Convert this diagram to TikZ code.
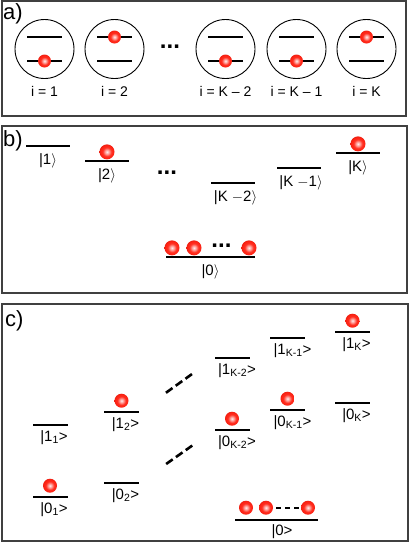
\documentclass[tikz,border=0pt]{standalone}
\usepackage{fontspec}
\setmainfont{Liberation Sans}
\usetikzlibrary{positioning}

\definecolor{ballred}{RGB}{255,35,20}
\pgfdeclareradialshading{redball}{\pgfpoint{0bp}{0bp}}{color(0bp)=(ballred!8); color(7bp)=(ballred!45); color(15bp)=(ballred!95); color(22bp)=(ballred); color(25bp)=(ballred!93!black); color(50bp)=(ballred!93!black)}

\begin{document}
\begin{tikzpicture}[x=1pt, y=-1pt]
	\tikzstyle{frame} = [draw=black!75, line width=1.3pt]
	\tikzstyle{tag} = [font=\fontsize{22}{22}\selectfont, inner sep=0pt, anchor=west]
	\tikzstyle{atom} = [circle, draw, line width=0.9pt, minimum size=59pt, inner sep=0pt]
	\tikzstyle{lev} = [rectangle, fill=black, inner sep=0pt, minimum width=35pt, minimum height=1.8pt]
	\tikzstyle{leva} = [lev, minimum width=35pt, minimum height=2.8pt]
	\tikzstyle{levb} = [lev, minimum width=44pt, minimum height=2.5pt]
	\tikzstyle{ball} = [circle, inner sep=0pt, minimum size=14pt, shading=redball]
	\tikzstyle{ket} = [font=\fontsize{15}{15}\selectfont, inner sep=0pt]
	\tikzstyle{site} = [font=\fontsize{14}{14}\selectfont, inner sep=0pt]
	\tikzstyle{dots} = [font=\bfseries\fontsize{24}{24}\selectfont, inner sep=0pt]
	\tikzstyle{dashline} = [line width=2.6pt, dash pattern=on 8pt off 4pt, shorten <=33pt, shorten >=27pt]

	\useasboundingbox (0,0) rectangle (409,542);

	% a) single sites
	\draw[frame] (2,1) rectangle (406,116);
	\node[tag] (ta) at (3,14) {a)};

	\node[atom] (a1) at (44.5,49) {};
	\node[leva] (a1u) at ([yshift=12pt]a1.center) {};
	\node[leva] (a1l) at ([yshift=-12pt]a1.center) {};
	\node[ball, minimum size=13pt] (a1b) at (a1l) {};
	\node[site, below=7pt of a1] (a1t) {i = 1};

	\node[atom] (a2) at (114.5,49) {};
	\node[leva] (a2u) at ([yshift=12pt]a2.center) {};
	\node[leva] (a2l) at ([yshift=-12pt]a2.center) {};
	\node[ball, minimum size=13pt] (a2b) at (a2u) {};
	\node[site, below=7pt of a2] (a2t) {i = 2};

	\node[dots] (ad) at (170,47) {...};

	\node[atom] (a3) at (225.5,49) {};
	\node[leva] (a3u) at ([yshift=12pt]a3.center) {};
	\node[leva] (a3l) at ([yshift=-12pt]a3.center) {};
	\node[ball, minimum size=13pt] (a3b) at (a3l) {};
	\node[site, below=7pt of a3] (a3t) {i = K – 2};

	\node[atom] (a4) at (296.5,49) {};
	\node[leva] (a4u) at ([yshift=12pt]a4.center) {};
	\node[leva] (a4l) at ([yshift=-12pt]a4.center) {};
	\node[ball, minimum size=13pt] (a4b) at (a4l) {};
	\node[site, below=7pt of a4] (a4t) {i = K – 1};

	\node[atom] (a5) at (366.5,49) {};
	\node[leva] (a5u) at ([yshift=12pt]a5.center) {};
	\node[leva] (a5l) at ([yshift=-12pt]a5.center) {};
	\node[ball, minimum size=13pt] (a5b) at (a5u) {};
	\node[site, below=7pt of a5] (a5t) {i = K};

	% b) one excitation
	\draw[frame] (2,126) rectangle (407,293);
	\node[tag] (tb) at (3,141) {b)};

	\node[levb] (b1) at (48,146) {};
	\node[ket, below=6pt of b1] (b1t) {|1$\rangle$};
	\node[levb] (b2) at (107,161) {};
	\node[ball, minimum size=15pt, above=0pt of b2] (b2b) {};
	\node[ket, below=6pt of b2] (b2t) {|2$\rangle$};
	\node[dots] (bd) at (167,173) {...};
	\node[levb] (bK2) at (232.5,183) {};
	\node[ket, below=6pt of bK2, xshift=3pt] (bK2t) {|K $-$2$\rangle$};
	\node[levb] (bK1) at (299,168) {};
	\node[ket, below=6pt of bK1, xshift=2pt] (bK1t) {|K $-$1$\rangle$};
	\node[levb] (bK) at (358,153) {};
	\node[ball, minimum size=15pt, above=0pt of bK] (bKb) {};
	\node[ket, below=6pt of bK] (bKt) {|K$\rangle$};

	\node[levb, minimum width=89pt] (b0) at (210.5,257) {};
	\node[ball, minimum size=15pt, anchor=south] (q1) at ([xshift=-38.5pt]b0.north) {};
	\node[ball, minimum size=15pt, anchor=south] (q2) at ([xshift=-16.5pt]b0.north) {};
	\node[ball, minimum size=15pt, anchor=south] (q3) at ([xshift=38.5pt]b0.north) {};
	\path (q2) -- (q3) node[midway, dots, yshift=2pt] (qd) {...};
	\node[ket, below=6pt of b0] (b0t) {|0$\rangle$};

	% c) two-level sites
	\draw[frame] (2,304) rectangle (408,541);
	\node[tag] (tc) at (5,321) {c)};

	\node[lev] (c11) at (50,425) {};
	\node[ket, below=4pt of c11, xshift=4pt] (c11t) {|1\textsubscript{1}>};
	\node[lev] (c01) at (50,497) {};
	\node[ball, above=3pt of c01] (c01b) {};
	\node[ket, below=4pt of c01, xshift=4pt] (c01t) {|0\textsubscript{1}>};

	\node[lev] (c12) at (121.5,412) {};
	\node[ball, above=3pt of c12] (c12b) {};
	\node[ket, below=4pt of c12, xshift=4pt] (c12t) {|1\textsubscript{2}>};
	\node[lev] (c02) at (121.5,483) {};
	\node[ket, below=4pt of c02, xshift=4pt] (c02t) {|0\textsubscript{2}>};

	\node[lev] (c1K2) at (232,358) {};
	\node[ket, below=4pt of c1K2, xshift=5pt] (c1K2t) {|1\textsubscript{K-2}>};
	\node[lev] (c0K2) at (232,430) {};
	\node[ball, above=3pt of c0K2] (c0K2b) {};
	\node[ket, below=4pt of c0K2, xshift=5pt] (c0K2t) {|0\textsubscript{K-2}>};

	\node[lev] (c1K1) at (287.5,338) {};
	\node[ket, below=4pt of c1K1, xshift=5pt] (c1K1t) {|1\textsubscript{K-1}>};
	\node[lev] (c0K1) at (287.5,410) {};
	\node[ball, above=3pt of c0K1] (c0K1b) {};
	\node[ket, below=4pt of c0K1, xshift=5pt] (c0K1t) {|0\textsubscript{K-1}>};

	\node[lev] (c1K) at (352.5,332) {};
	\node[ball, above=3pt of c1K] (c1Kb) {};
	\node[ket, below=4pt of c1K, xshift=4pt] (c1Kt) {|1\textsubscript{K}>};
	\node[lev] (c0K) at (352.5,403) {};
	\node[ket, below=4pt of c0K, xshift=4pt] (c0Kt) {|0\textsubscript{K}>};

	\draw[dashline] (c12.east) -- (c1K2.west);
	\draw[dashline] (c02.east) -- (c0K2.west);

	\node[lev, minimum width=83pt] (c0) at (276,520) {};
	\node[ball, anchor=south] (r1) at ([xshift=-30pt, yshift=4pt]c0.north) {};
	\node[ball, anchor=south] (r2) at ([xshift=-10pt, yshift=4pt]c0.north) {};
	\node[ball, anchor=south] (r3) at ([xshift=32pt, yshift=4pt]c0.north) {};
	\draw[line width=1.8pt, dash pattern=on 5pt off 4pt, shorten <=3pt, shorten >=2pt] (r2.east) -- (r3.west);
	\node[ket, below=3pt of c0, xshift=6pt] (c0t) {|0>};
\end{tikzpicture}
\end{document}
